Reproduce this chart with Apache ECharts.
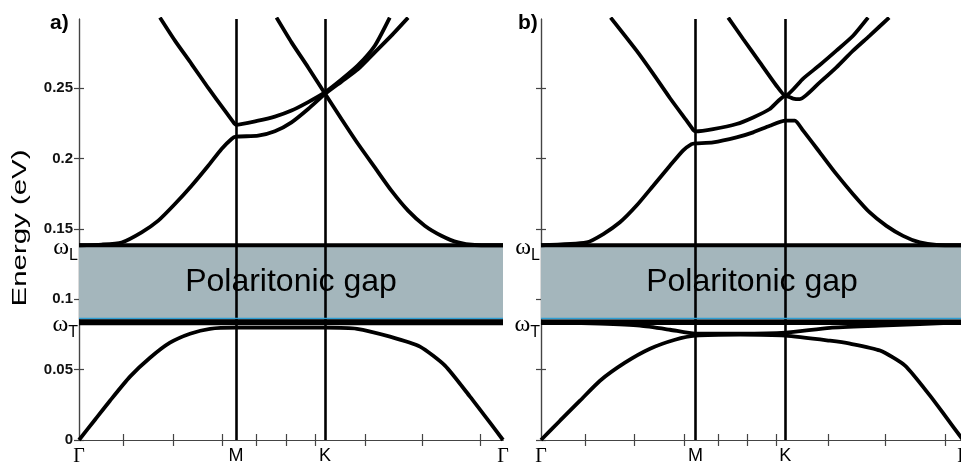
<!DOCTYPE html>
<html>
<head>
<meta charset="utf-8">
<script src="https://cdn.jsdelivr.net/npm/echarts@6/dist/echarts.min.js"></script>
<style>html,body{margin:0;padding:0;background:#fff;}#c{width:961px;height:468px;}</style>
</head>
<body>
<div id="c"></div>
<script>
// ---- data ----
const kNames = ['Γ', 'M', 'K', 'Γ'];
const kPosA = [0, 0.370, 0.580, 1];
const kPosB = [0, 0.366, 0.579, 1];
const minorTicksA = [0.1045, 0.2224, 0.3389, 0.4191, 0.4898, 0.5566, 0.6745, 0.8106, 0.9474];
const minorTicksB = [0.1059, 0.2211, 0.3396, 0.4202, 0.4889, 0.5585, 0.6808, 0.8168, 0.9574];
const yTickValues = [0, 0.05, 0.1, 0.15, 0.2, 0.25];
const omegaL = 0.1383;
const omegaT = 0.0837;
const gapRange = [0.0855, 0.1383];
const gapEdge = 0.0864;
const gapText = 'Polaritonic gap';
const yTitle = 'Energy (eV)';
const panelNames = ['a)', 'b)'];

// panel a
const aAcousticX = [0, 0.0377, 0.0731, 0.1203, 0.1675, 0.2146, 0.2618, 0.309, 0.370, 0.580, 0.6557, 0.7335, 0.8042, 0.8632, 0.9222, 0.9693, 1];
const aAcousticY = [0, 0.0144, 0.0279, 0.045, 0.0584, 0.0691, 0.0755, 0.079, 0.0798, 0.0798, 0.079, 0.0734, 0.0663, 0.0528, 0.0308, 0.0123, 0];
const aTOX = [0, 1];
const aTOY = [omegaT, omegaT];
const aLOX = [0, 1];
const aLOY = [omegaL, omegaL];
const aBand1X = [0, 0.0534, 0.1006, 0.1477, 0.187, 0.2262, 0.2655, 0.3048, 0.3362, 0.3598, 0.370, 0.4226, 0.4619, 0.5012, 0.5405, 0.580, 0.619, 0.6583, 0.6976, 0.7368, 0.7761];
const aBand1Y = [0.1383, 0.1388, 0.1403, 0.1475, 0.1558, 0.1676, 0.1806, 0.1948, 0.2067, 0.2138, 0.2154, 0.2161, 0.2192, 0.2256, 0.2351, 0.2457, 0.2545, 0.2634, 0.2753, 0.2872, 0.30];
const aBand2X = [0.1909, 0.2262, 0.2655, 0.3048, 0.344, 0.366, 0.370, 0.4226, 0.4619, 0.5012, 0.5405, 0.580, 0.619, 0.6583, 0.6976, 0.7329];
const aBand2Y = [0.30, 0.2836, 0.267, 0.25, 0.2339, 0.2249, 0.2239, 0.2268, 0.2297, 0.234, 0.24, 0.2469, 0.2560, 0.2662, 0.2800, 0.30];
const aBand3X = [0.4658, 0.5012, 0.5405, 0.580, 0.619, 0.6583, 0.6976, 0.7368, 0.7761, 0.8154, 0.8547, 0.894, 0.9332, 1];
const aBand3Y = [0.30, 0.2824, 0.2646, 0.2461, 0.228, 0.2102, 0.1936, 0.1771, 0.1629, 0.1522, 0.1451, 0.1403, 0.1385, 0.1383];

// panel b
const bAcousticX = [0, 0.045, 0.0924, 0.1398, 0.199, 0.2583, 0.3175, 0.366, 0.4716, 0.579, 0.6848, 0.7322, 0.8033, 0.8626, 0.9218, 0.9573, 1];
const bAcousticY = [0, 0.0137, 0.0279, 0.0421, 0.0549, 0.0648, 0.0712, 0.0741, 0.0748, 0.0741, 0.0705, 0.0684, 0.0635, 0.0528, 0.0315, 0.0173, 0];
const bLowerX = [0, 0.1398, 0.2346, 0.3057, 0.366, 0.4716, 0.579, 0.6848, 0.8033, 1];
const bLowerY = [0.0837, 0.0826, 0.0812, 0.0783, 0.0755, 0.0755, 0.0762, 0.0797, 0.0812, 0.0837];
const bTOX = [0, 1];
const bTOY = [omegaT, omegaT];
const bLOX = [0, 1];
const bLOY = [omegaL, omegaL];
const bBand1X = [0, 0.108, 0.1476, 0.187, 0.2265, 0.266, 0.3054, 0.337, 0.3567, 0.366, 0.408, 0.4633, 0.5027, 0.5422, 0.579, 0.6014, 0.6212, 0.6606, 0.7, 0.7395, 0.779, 0.8185, 0.858, 0.8974, 0.937, 1];
const bBand1Y = [0.1383, 0.1403, 0.1463, 0.1546, 0.1665, 0.1806, 0.1948, 0.2057, 0.2102, 0.2107, 0.2114, 0.2149, 0.2185, 0.2232, 0.2268, 0.2268, 0.2197, 0.2043, 0.1888, 0.1746, 0.1616, 0.1521, 0.145, 0.1403, 0.1385, 0.1383];
const bBand2X = [0.165, 0.2265, 0.266, 0.3054, 0.345, 0.3623, 0.366, 0.408, 0.4633, 0.5027, 0.5422, 0.579, 0.5975, 0.613, 0.6606, 0.7, 0.7395, 0.779, 0.825];
const bBand2Y = [0.30, 0.2765, 0.26, 0.2429, 0.2268, 0.2197, 0.2192, 0.2208, 0.2244, 0.2291, 0.2351, 0.2445, 0.2425, 0.2421, 0.254, 0.2646, 0.2765, 0.2872, 0.30];
const bBand3X = [0.4436, 0.479, 0.5185, 0.558, 0.579, 0.6212, 0.6606, 0.7, 0.7395, 0.775];
const bBand3Y = [0.30, 0.2848, 0.2682, 0.2516, 0.2445, 0.2567, 0.2663, 0.2765, 0.2871, 0.30];

// ---- build ----
const zip = (xs, ys) => xs.map((x, i) => [x, ys[i]]);
const SANS = "'Liberation Sans',Arial,sans-serif";
const SERIF = "'Liberation Serif','Times New Roman',serif";
const AXC = '#444';

function xAxes(gridIndex, kPos, minor) {
  const base = {
    type: 'value', gridIndex, min: 0, max: 1,
    axisLine: { show: true, lineStyle: { color: AXC, width: 1.2 } },
    axisTick: { show: true, inside: true, length: 6, customValues: minor, lineStyle: { color: AXC, width: 1.2 } },
    splitLine: { show: false }
  };
  return [
    Object.assign({}, base, {
      position: 'bottom',
      axisLabel: {
        show: true, customValues: kPos, margin: 7, hideOverlap: false,
        formatter: v => { const i = kPos.indexOf(v); const n = kNames[i]; return n === 'Γ' ? '{g|Γ}' : '{s|' + n + '}'; },
        rich: {
          g: { fontFamily: SERIF, fontSize: 20, color: '#000' },
          s: { fontFamily: SANS, fontSize: 18, color: '#000' }
        }
      }
    }),
    Object.assign({}, base, { position: 'top', axisLabel: { show: false } })
  ];
}

const omegaRich = {
  n: { fontFamily: SANS, fontWeight: 'bold', fontSize: 15, color: '#111', padding: [0, 5, 0, 0] },
  w: { fontFamily: SERIF, fontSize: 24, color: '#000', verticalAlign: 'bottom', padding: [9, 0, 4, 0] },
  sub: { fontFamily: SANS, fontSize: 16, color: '#000', verticalAlign: 'bottom' }
};
function yLabelFmt(withNumbers) {
  return v => {
    if (Math.abs(v - omegaL) < 1e-6) return '{w|ω}{sub|L}';
    if (Math.abs(v - omegaT) < 1e-6) return '{w|ω}{sub|T}';
    return withNumbers ? '{n|' + String(v) + '}' : '';
  };
}
function yAxes(gridIndex, withNumbers) {
  const base = {
    type: 'value', gridIndex, min: 0, max: 0.299,
    axisLine: { show: true, lineStyle: { color: AXC, width: 1.2 } },
    axisTick: { show: true, inside: true, length: 5, customValues: yTickValues, lineStyle: { color: AXC, width: 1.2 } },
    splitLine: { show: false }
  };
  const left = Object.assign({}, base, {
    position: 'left',
    axisLabel: {
      show: true, margin: 1, hideOverlap: false,
      customValues: withNumbers ? yTickValues.concat([omegaT, omegaL]) : [omegaT, omegaL],
      formatter: yLabelFmt(withNumbers), rich: omegaRich
    }
  });
  return [left, Object.assign({}, base, { position: 'right', axisLabel: { show: false } })];
}

function bandSeries(xi, yi, data, width) {
  return {
    type: 'line', xAxisIndex: xi, yAxisIndex: yi, data, showSymbol: false, symbol: 'none',
    smooth: 0.2, clip: true, z: 5, silent: true,
    lineStyle: { color: '#000', width: width || 3.8 }
  };
}
function panelSeries(xi, yi, kPos, bands) {
  const out = [];
  out.push({
    type: 'line', xAxisIndex: xi, yAxisIndex: yi, data: [], z: 1, silent: true,
    markLine: {
      silent: true, precision: 6, symbol: ['none', 'none'], label: { show: false },
      lineStyle: { color: '#000', width: 2.6, type: 'solid' },
      data: [{ xAxis: kPos[1] }, { xAxis: kPos[2] }]
    }
  });
  out.push({
    type: 'line', xAxisIndex: xi, yAxisIndex: yi, data: [], z: 3, silent: true,
    markArea: {
      silent: true, precision: 6,
      itemStyle: { color: '#a4b6bc' },
      label: { show: true, position: 'inside', formatter: gapText, fontFamily: SANS, fontSize: 32, color: '#000' },
      data: [[{ yAxis: gapRange[0] }, { yAxis: gapRange[1] }]]
    },
    markLine: {
      silent: true, precision: 6, symbol: ['none', 'none'], label: { show: false },
      lineStyle: { color: '#2f9fd4', width: 1.3, type: 'solid' },
      data: [{ yAxis: gapEdge }]
    }
  });
  bands.forEach(b => out.push(bandSeries(xi, yi, b[0], b[1])));
  return out;
}

const seriesA = panelSeries(0, 0, kPosA, [
  [zip(aTOX, aTOY), 6], [zip(aLOX, aLOY), 4],
  [zip(aAcousticX, aAcousticY)], [zip(aBand1X, aBand1Y)], [zip(aBand2X, aBand2Y)], [zip(aBand3X, aBand3Y)]
]);
const seriesB = panelSeries(2, 2, kPosB, [
  [zip(bTOX, bTOY), 5.5], [zip(bLOX, bLOY), 4],
  [zip(bAcousticX, bAcousticY)], [zip(bLowerX, bLowerY)], [zip(bBand1X, bBand1Y)], [zip(bBand2X, bBand2Y)], [zip(bBand3X, bBand3Y)]
]);

const chart = echarts.init(document.getElementById('c'), null, { renderer: 'canvas' });
chart.setOption({
  animation: false,
  backgroundColor: '#fff',
  title: [
    { text: panelNames[0], left: 45, top: 8, textStyle: { fontFamily: SANS, fontWeight: 'bold', fontSize: 21, color: '#000' } },
    { text: panelNames[1], left: 513, top: 8, textStyle: { fontFamily: SANS, fontWeight: 'bold', fontSize: 21, color: '#000' } }
  ],
  grid: [
    { left: 79, top: 19, width: 424, height: 421, outerBoundsMode: 'none', containLabel: false },
    { left: 541, top: 19, width: 422, height: 421, outerBoundsMode: 'none', containLabel: false }
  ],
  xAxis: xAxes(0, kPosA, minorTicksA).concat(xAxes(1, kPosB, minorTicksB)),
  yAxis: yAxes(0, true).concat(yAxes(1, false)),
  graphic: [{
    type: 'text', x: 20, y: 228, rotation: Math.PI / 2, scaleX: 1.4, scaleY: 1, silent: true,
    style: { text: yTitle, fontFamily: SANS, fontSize: 21, fill: '#000', align: 'center', verticalAlign: 'middle' }
  }],
  series: seriesA.concat(seriesB)
});
</script>
</body>
</html>
